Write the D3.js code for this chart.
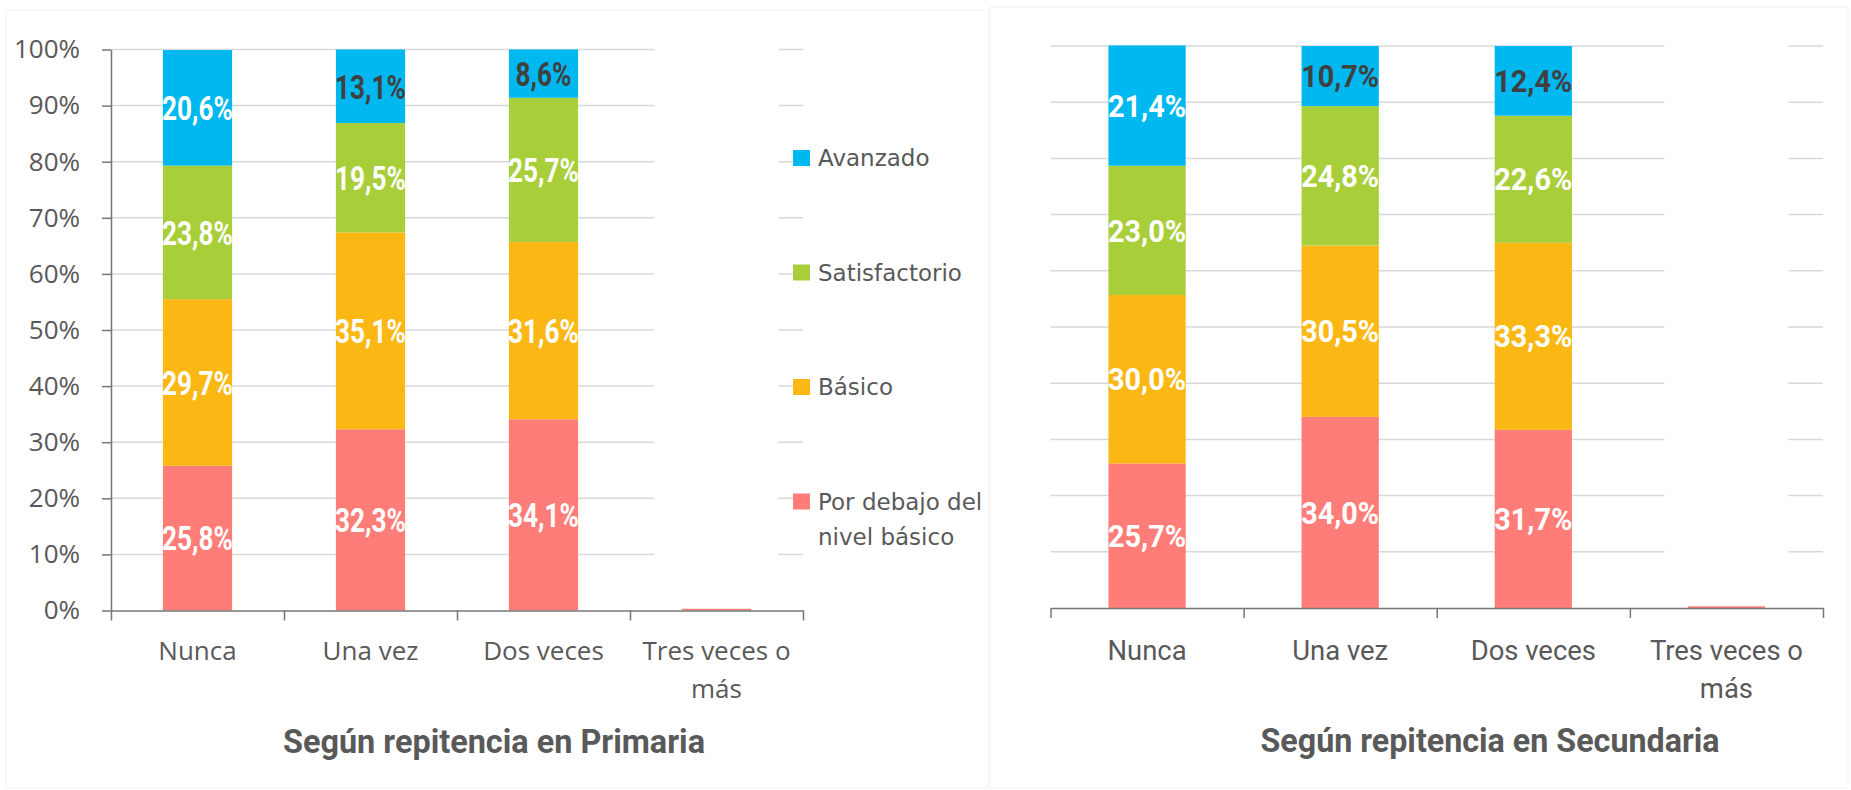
<!DOCTYPE html>
<meta charset="utf-8">
<style>
body { margin: 0; background: #fff; }
</style>
<body>

<script src="https://cdn.jsdelivr.net/npm/d3@7/dist/d3.min.js"></script>
<script>
// categories and series
var categories = ["Nunca", "Una vez", "Dos veces", "Tres veces o más"];
var categoryLines = [["Nunca"], ["Una vez"], ["Dos veces"], ["Tres veces o", "más"]];
var seriesKeys = ["debajo", "basico", "satisf", "avanzado"];
var seriesNames = ["Por debajo del nivel básico", "Básico", "Satisfactorio", "Avanzado"];
var seriesColors = ["#ff7d78", "#fbb815", "#a8ce39", "#00b8f0"];

// Según repitencia en Primaria (%)
var primDebajo = [25.8, 32.3, 34.1, 0.3];
var primBasico = [29.7, 35.1, 31.6, 0];
var primSatisf = [23.8, 19.5, 25.7, 0];
var primAvanzado = [20.6, 13.1, 8.6, 0];

// Según repitencia en Secundaria (%)
var secDebajo = [25.7, 34.0, 31.7, 0.3];
var secBasico = [30.0, 30.5, 33.3, 0];
var secSatisf = [23.0, 24.8, 22.6, 0];
var secAvanzado = [21.4, 10.7, 12.4, 0];

var yTicks = [0, 10, 20, 30, 40, 50, 60, 70, 80, 90, 100];
var titles = ["Según repitencia en Primaria", "Según repitencia en Secundaria"];
var legendLines = [["Avanzado"], ["Satisfactorio"], ["Básico"], ["Por debajo del", "nivel básico"]];

var textGray = "#595959";

var svg = d3.select("body").append("svg")
    .attr("width", 1851)
    .attr("height", 790);

// faint panel frames
svg.append("rect").attr("x", 6).attr("y", 10).attr("width", 982).attr("height", 778)
    .attr("fill", "none").attr("stroke", "#f2f2f2");
svg.append("rect").attr("x", 990).attr("y", 7).attr("width", 858).attr("height", 781)
    .attr("fill", "none").attr("stroke", "#f2f2f2");

function makeRows(deb, bas, sat, ava) {
  return categories.map(function(c, i) {
    return {cat: c, debajo: deb[i], basico: bas[i], satisf: sat[i], avanzado: ava[i]};
  });
}

function drawChart(cfg, rows) {
  var g = svg.append("g");

  var x = d3.scaleBand().domain(categories)
      .range([cfg.left, cfg.right])
      .paddingInner(0.6).paddingOuter(0.3);
  var y = d3.scaleLinear().domain([0, 100]).range([cfg.bottom, cfg.top]);

  // gridlines
  g.append("g").selectAll("line")
    .data(yTicks.filter(function(d) { return d > 0; }))
    .join("line")
      .attr("x1", cfg.left).attr("x2", cfg.right)
      .attr("y1", function(d) { return y(d); })
      .attr("y2", function(d) { return y(d); })
      .attr("stroke", "#d9d9d9").attr("stroke-width", 1.5);

  // white box over the last category (hides gridlines like in the original)
  var xc = x(categories[3]) + x.bandwidth() / 2;
  g.append("rect")
      .attr("x", xc - 62).attr("width", 124)
      .attr("y", y(100) - 4).attr("height", y(5) - y(100) + 4)
      .attr("fill", "#fff");

  // stacked bars
  var stacked = d3.stack().keys(seriesKeys)(rows);
  var layer = g.append("g").selectAll("g")
    .data(stacked)
    .join("g")
      .attr("fill", function(d, i) { return seriesColors[i]; });

  layer.selectAll("rect")
    .data(function(d) { return d; })
    .join("rect")
      .attr("x", function(d) { return x(d.data.cat); })
      .attr("width", x.bandwidth())
      .attr("y", function(d) { return y(d[1]); })
      .attr("height", function(d) { return y(d[0]) - y(d[1]); });

  // data labels
  stacked.forEach(function(s, si) {
    g.append("g").selectAll("text")
      .data(s.filter(function(d) { return d[1] - d[0] > 1; }))
      .join("text")
        .attr("transform", function(d) {
          return "translate(" + (x(d.data.cat) + x.bandwidth() / 2) + "," + y((d[0] + d[1]) / 2) + ") scale(" + cfg.labelScale + ",1)";
        })
        .attr("dy", "0.36em")
        .attr("text-anchor", "middle")
        .style("font-family", "Roboto, sans-serif")
        .style("font-weight", 700)
        .style("font-size", cfg.labelSize + "px")
        .attr("fill", function(d) {
          var v = d[1] - d[0];
          return (s.key === "avanzado" && v < 15) ? "#404040" : "#fff";
        })
        .text(function(d) { return d3.format(".1f")(d[1] - d[0]).replace(".", ",") + "%"; });
  });

  // x axis with ticks between categories
  var xb = d3.scaleLinear().domain([0, categories.length]).range([cfg.left, cfg.right]);
  var xAxis = g.append("g")
      .attr("transform", "translate(0," + cfg.bottom + ")")
      .call(d3.axisBottom(xb).tickValues(d3.range(categories.length + 1))
        .tickSize(10).tickSizeOuter(0).tickFormat(""));
  xAxis.select(".domain").attr("stroke", "#767676").attr("stroke-width", 1.5);
  xAxis.selectAll(".tick line").attr("stroke", "#767676").attr("stroke-width", 1.5);

  // category labels
  categoryLines.forEach(function(lines, i) {
    var t = g.append("text")
        .attr("text-anchor", "middle")
        .attr("transform", "translate(" + (x(categories[i]) + x.bandwidth() / 2) + "," + cfg.catY + ") scale(" + cfg.catScale + ",1)")
        .style("font-family", cfg.catFont)
        .style("font-size", cfg.catSize + "px")
        .attr("fill", textGray);
    lines.forEach(function(l, k) {
      t.append("tspan").attr("x", 0).attr("y", k * 38).attr("dy", "0.36em").text(l);
    });
  });

  // y axis
  if (cfg.yAxis) {
    var yAxis = g.append("g")
        .attr("transform", "translate(" + cfg.left + ",0)")
        .call(d3.axisLeft(y).tickValues(yTicks).tickSize(9).tickSizeOuter(0)
          .tickPadding(22).tickFormat(function(d) { return d + "%"; }));
    yAxis.select(".domain").attr("stroke", "#767676").attr("stroke-width", 1.5);
    yAxis.selectAll(".tick line").attr("stroke", "#767676").attr("stroke-width", 1.5);
    yAxis.selectAll(".tick text")
        .style("font-family", "'Open Sans', sans-serif")
        .style("font-size", "26px")
        .attr("fill", textGray);
  }

  // title
  g.append("text")
      .attr("x", cfg.titleX).attr("y", cfg.titleY)
      .attr("text-anchor", "middle")
      .attr("textLength", cfg.titleW)
      .attr("lengthAdjust", "spacingAndGlyphs")
      .style("font-family", "Roboto, sans-serif")
      .style("font-weight", 700)
      .style("font-size", "33px")
      .attr("fill", textGray)
      .text(cfg.title);

  return g;
}

drawChart({
  left: 111, right: 803, top: 49.5, bottom: 610.5,
  yAxis: true, labelSize: 34, labelScale: 0.77,
  catY: 651, catSize: 26, catScale: 1, catFont: "'Open Sans', sans-serif",
  title: titles[0], titleX: 494, titleY: 753, titleW: 422
}, makeRows(primDebajo, primBasico, primSatisf, primAvanzado));

drawChart({
  left: 1050.5, right: 1823, top: 46, bottom: 608,
  yAxis: false, labelSize: 31, labelScale: 0.93,
  catY: 650, catSize: 28, catScale: 0.98, catFont: "Roboto, sans-serif",
  title: titles[1], titleX: 1490, titleY: 752, titleW: 459
}, makeRows(secDebajo, secBasico, secSatisf, secAvanzado));

// legend (first chart)
var legendColors = seriesColors.slice().reverse();
var legend = svg.append("g").selectAll("g")
  .data(legendLines)
  .join("g")
    .attr("transform", function(d, i) { return "translate(793," + (158 + i * 114.5) + ")"; });

legend.append("rect")
    .attr("x", 0).attr("y", -8).attr("width", 17).attr("height", 16)
    .attr("fill", function(d, i) { return legendColors[i]; });

legend.append("text")
    .style("font-family", "'DejaVu Sans', sans-serif")
    .style("font-size", "23px")
    .attr("fill", textGray)
  .selectAll("tspan")
  .data(function(d) { return d; })
  .join("tspan")
    .attr("x", 25)
    .attr("y", function(d, k) { return k * 35; })
    .attr("dy", "0.36em")
    .text(function(d) { return d; });

</script>
</body>
